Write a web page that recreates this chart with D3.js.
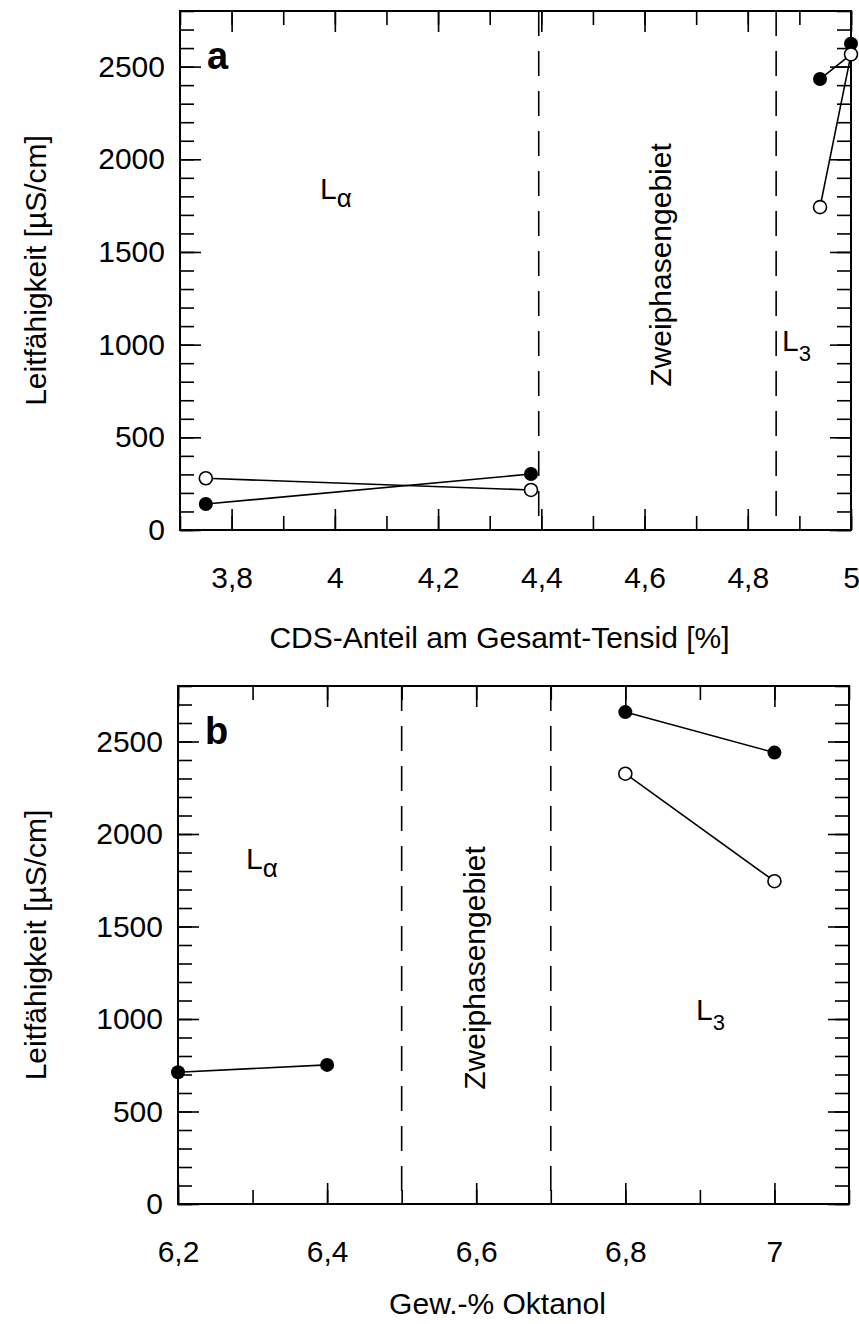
<html>
<head>
    <meta charset="utf-8">
    <script src="https://cdn.jsdelivr.net/npm/d3@7"></script>
    <style>
        body { margin: 0; background: #fff; }
        text { font-family: "Liberation Sans", Arial, sans-serif; fill: #000; }
        .frame { fill: none; stroke: #000; stroke-width: 2px; }
        .tick line, .domain { stroke: #000; stroke-width: 1.6px; }
        .phase { stroke: #000; stroke-width: 1.6px; stroke-dasharray: 25 15; }
        .link { fill: none; stroke: #000; stroke-width: 1.6px; }
    </style>
</head>
<body>
<script>

    // panel a: CDS-Anteil, panel b: Oktanol
    var yTicksMajor = [0, 500, 1000, 1500, 2000, 2500];

    var aXTicks = [3.8, 4.0, 4.2, 4.4, 4.6, 4.8, 5.0];
    var aFilledX = [3.75, 4.38, 4.94, 5.0];
    var aFilledY = [140, 302, 2433, 2623];
    var aOpenX = [3.75, 4.38, 4.94, 5.0];
    var aOpenY = [279, 216, 1742, 2566];
    // line pieces as drawn in the original (filled 4,94 runs into open 5)
    var aLines = [
        [[3.75, 140], [4.38, 302]],
        [[3.75, 279], [4.38, 216]],
        [[4.94, 2433], [5.0, 2566]],
        [[4.94, 1742], [5.0, 2566]]
    ];
    var aBounds = [4.395, 4.855];

    var bXTicks = [6.2, 6.4, 6.6, 6.8, 7.0];
    var bFilledX = [6.2, 6.4, 6.8, 7.0];
    var bFilledY = [712, 752, 2659, 2440];
    var bOpenX = [6.8, 7.0];
    var bOpenY = [2326, 1745];
    var bLines = [
        [[6.2, 712], [6.4, 752]],
        [[6.8, 2659], [7.0, 2440]],
        [[6.8, 2326], [7.0, 1745]]
    ];
    var bBounds = [6.5, 6.7];

    var width = 859, height = 1324;

    var svg = d3.select("body").append("svg")
        .attr("width", width)
        .attr("height", height);

    function fmt(v) {
        return String(+v.toFixed(1)).replace(".", ",");
    }

    function range(a, b, step) {
        var out = [];
        for (var v = a; v <= b + 1e-9; v += step) out.push(+v.toFixed(2));
        return out;
    }

    function panel(o) {
        var x = d3.scaleLinear().domain(o.xDomain).range([o.left, o.right]);
        var y = d3.scaleLinear().domain([0, 2800]).range([o.bottom, o.top]);
        var g = svg.append("g");

        var xMinor = range(o.xDomain[0], o.xDomain[1], 0.1);
        var yMinor = range(0, 2800, 100);

        // minor ticks on all four sides
        g.append("g").attr("transform", "translate(0," + o.bottom + ")")
            .call(d3.axisBottom(x).tickValues(xMinor).tickSizeInner(-14).tickSizeOuter(0).tickFormat(""));
        g.append("g").attr("transform", "translate(0," + o.top + ")")
            .call(d3.axisTop(x).tickValues(xMinor).tickSizeInner(-14).tickSizeOuter(0).tickFormat(""));
        g.append("g").attr("transform", "translate(" + o.left + ",0)")
            .call(d3.axisLeft(y).tickValues(yMinor).tickSizeInner(-14).tickSizeOuter(0).tickFormat(""));
        g.append("g").attr("transform", "translate(" + o.right + ",0)")
            .call(d3.axisRight(y).tickValues(yMinor).tickSizeInner(-14).tickSizeOuter(0).tickFormat(""));

        // major ticks with labels
        g.append("g").attr("transform", "translate(0," + o.bottom + ")")
            .call(d3.axisBottom(x).tickValues(o.xTicks).tickSizeInner(-21).tickSizeOuter(0)
                .tickPadding(37).tickFormat(fmt))
            .selectAll("text").style("font-size", "30px");
        g.append("g").attr("transform", "translate(0," + o.top + ")")
            .call(d3.axisTop(x).tickValues(o.xTicks).tickSizeInner(-21).tickSizeOuter(0).tickFormat(""));
        g.append("g").attr("transform", "translate(" + o.left + ",0)")
            .call(d3.axisLeft(y).tickValues(yTicksMajor).tickSizeInner(-21).tickSizeOuter(0)
                .tickPadding(15).tickFormat(d3.format("d")))
            .selectAll("text").style("font-size", "30px");
        g.append("g").attr("transform", "translate(" + o.right + ",0)")
            .call(d3.axisRight(y).tickValues(yTicksMajor).tickSizeInner(-21).tickSizeOuter(0).tickFormat(""));

        g.selectAll(".domain").remove();

        g.append("rect").attr("class", "frame")
            .attr("x", o.left).attr("y", o.top)
            .attr("width", o.right - o.left).attr("height", o.bottom - o.top);

        // phase boundaries
        g.selectAll("line.phase").data(o.bounds).enter().append("line")
            .attr("class", "phase")
            .attr("x1", function (d) { return x(d); }).attr("x2", function (d) { return x(d); })
            .attr("y1", o.top).attr("y2", o.bottom);

        var line = d3.line().x(function (d) { return x(d[0]); }).y(function (d) { return y(d[1]); });
        g.selectAll("path.link").data(o.lines).enter().append("path")
            .attr("class", "link").attr("d", line);

        g.selectAll("circle.filled").data(o.filledX).enter().append("circle")
            .attr("class", "filled")
            .attr("cx", function (d) { return x(d); })
            .attr("cy", function (d, i) { return y(o.filledY[i]); })
            .attr("r", 7).attr("fill", "#000");
        g.selectAll("circle.open").data(o.openX).enter().append("circle")
            .attr("class", "open")
            .attr("cx", function (d) { return x(d); })
            .attr("cy", function (d, i) { return y(o.openY[i]); })
            .attr("r", 6.5).attr("fill", "#fff").attr("stroke", "#000").attr("stroke-width", 1.6);

        // panel letter
        g.append("text").attr("x", o.left + 27).attr("y", o.top + 58)
            .style("font-size", "38px").style("font-weight", "bold").text(o.letter);

        // axis titles
        g.append("text").attr("x", (o.left + o.right) / 2 - 16).attr("y", o.bottom + o.titleDy)
            .attr("text-anchor", "middle").style("font-size", "30px").text(o.xTitle);
        g.append("text")
            .attr("transform", "translate(46," + ((o.top + o.bottom) / 2) + ") rotate(-90)")
            .attr("text-anchor", "middle").style("font-size", "30px").text("Leitfähigkeit [µS/cm]");

        // region labels
        var la = g.append("text").attr("x", o.la[0]).attr("y", o.la[1]).style("font-size", "30px");
        la.append("tspan").text("L");
        la.append("tspan").attr("dy", 8).style("font-size", "26px").text("α");
        var l3 = g.append("text").attr("x", o.l3[0]).attr("y", o.l3[1]).style("font-size", "30px");
        l3.append("tspan").text("L");
        l3.append("tspan").attr("dy", 10).style("font-size", "22px").text("3");
        g.append("text")
            .attr("transform", "translate(" + o.zw[0] + "," + o.zw[1] + ") rotate(-90)")
            .attr("text-anchor", "middle").style("font-size", "30px").text("Zweiphasengebiet");
    }

    panel({
        left: 180, right: 851, top: 11, bottom: 530,
        xDomain: [3.7, 5.0], xTicks: aXTicks,
        filledX: aFilledX, filledY: aFilledY, openX: aOpenX, openY: aOpenY,
        lines: aLines, bounds: aBounds, letter: "a",
        xTitle: "CDS-Anteil am Gesamt-Tensid [%]", titleDy: 118,
        la: [320, 199], l3: [782, 351], zw: [671, 265]
    });

    panel({
        left: 178, right: 849, top: 686, bottom: 1204,
        xDomain: [6.2, 7.1], xTicks: bXTicks,
        filledX: bFilledX, filledY: bFilledY, openX: bOpenX, openY: bOpenY,
        lines: bLines, bounds: bBounds, letter: "b",
        xTitle: "Gew.-% Oktanol", titleDy: 110,
        la: [246, 869], l3: [696, 1020], zw: [485, 968]
    });

</script>
</body>
</html>
